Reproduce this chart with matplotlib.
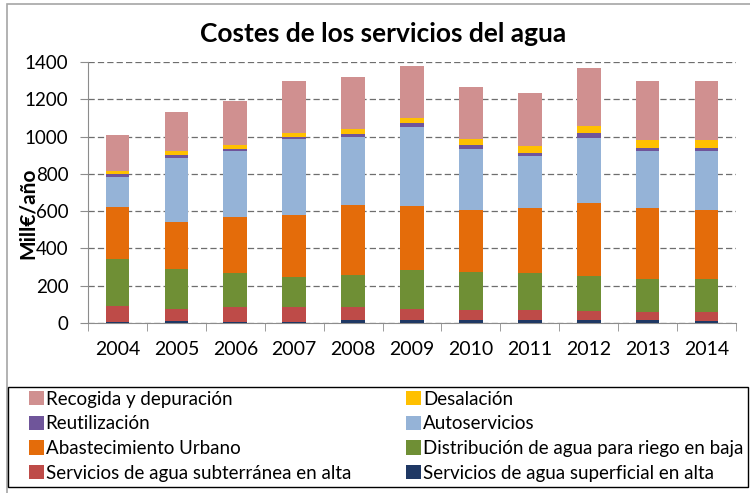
import matplotlib
matplotlib.use("Agg")
import matplotlib.pyplot as plt
from matplotlib.patches import Rectangle
import numpy as np

years = ["2004", "2005", "2006", "2007", "2008", "2009", "2010", "2011", "2012", "2013", "2014"]

# stacked series (bottom to top), Mill€/año
superficial = [5, 9, 8, 8, 18, 18, 16, 16, 16, 14, 9]
subterranea = [84, 66, 76, 76, 66, 57, 52, 52, 50, 47, 52]
distribucion = [256, 213, 186, 163, 175, 211, 206, 200, 184, 173, 173]
abastecimiento = [275, 254, 297, 334, 376, 343, 332, 347, 392, 381, 372]
autoservicios = [165, 343, 356, 406, 365, 424, 327, 279, 350, 308, 317]
reutilizacion = [14, 14, 12, 11, 12, 20, 20, 20, 27, 18, 18]
desalacion = [14, 22, 18, 23, 29, 27, 34, 37, 36, 39, 39]
recogida = [197, 211, 240, 275, 277, 280, 279, 283, 311, 318, 318]

series_names = [
    "Servicios de agua superficial en alta",
    "Servicios de agua subterránea en alta",
    "Distribución de agua para riego en baja",
    "Abastecimiento Urbano",
    "Autoservicios",
    "Reutilización",
    "Desalación",
    "Recogida y depuración",
]
series_values = [superficial, subterranea, distribucion, abastecimiento,
                 autoservicios, reutilizacion, desalacion, recogida]
colors = ["#1F3864", "#BE4B48", "#6F8F35", "#E46C0A",
          "#95B3D7", "#6F559A", "#FFC000", "#D09090"]

yticks = [0, 200, 400, 600, 800, 1000, 1200, 1400]

W, H = 750, 493
fig = plt.figure(figsize=(W / 100, H / 100), dpi=100)
fig.patch.set_facecolor("white")

# outer frame
fig.add_artist(Rectangle((7 / W, -0.1), 1.2, (H - 4) / H + 0.1, transform=fig.transFigure,
                         fill=False, edgecolor="#A6A6A6", linewidth=1.2))
# legend frame
fig.add_artist(Rectangle((8 / W, (H - 487) / H), 740 / W, 100 / H, transform=fig.transFigure,
                         fill=False, edgecolor="black", linewidth=1.0, zorder=5))

ax = fig.add_axes([88 / W, (H - 323) / H, 648 / W, 261 / H])
x = np.arange(len(years))
bottom = np.zeros(len(years))
handles = {}
for name, vals, c in zip(series_names, series_values, colors):
    b = ax.bar(x, vals, width=0.4, bottom=bottom, color=c, zorder=3, label=name)
    handles[name] = b
    bottom += np.array(vals)

ax.set_xlim(-0.5, len(years) - 0.5)
ax.set_ylim(0, 1400)
ax.set_yticks(yticks)
ax.set_yticklabels([str(v) for v in yticks], fontsize=13.5, family=["Lato", "DejaVu Sans"])
ax.yaxis.grid(True, linestyle=(0, (5, 2.5)), color="#6E6E6E", linewidth=0.9, zorder=0)
ax.set_axisbelow(True)

ax.set_xticks(x)
ax.set_xticklabels(years, fontsize=14, family=["Lato", "DejaVu Sans"])
ax.set_xticks(np.arange(-0.5, len(years), 1.0), minor=True)
ax.tick_params(axis="x", which="major", length=0, pad=13)
ax.tick_params(axis="x", which="minor", length=6, color="#8C8C8C", direction="out")
ax.tick_params(axis="y", length=6, color="#8C8C8C", direction="out", pad=8)

for s in ["top", "right"]:
    ax.spines[s].set_visible(False)
for s in ["left", "bottom"]:
    ax.spines[s].set_color("#8C8C8C")

ax.set_ylabel("Mill€/año", fontsize=15, fontweight="bold", family=["Lato", "DejaVu Sans"])
ax.yaxis.set_label_coords((38 - 88) / 648, (323 - 213) / 261)

fig.text(383 / W, 1 - 42 / H, "Costes de los servicios del agua", ha="center", va="baseline",
         fontsize=19, fontweight="bold", family=["Lato", "DejaVu Sans"])

order = ["Recogida y depuración", "Reutilización", "Abastecimiento Urbano",
         "Servicios de agua subterránea en alta",
         "Desalación", "Autoservicios", "Distribución de agua para riego en baja",
         "Servicios de agua superficial en alta"]
leg = fig.legend([handles[n] for n in order], order, ncol=2, mode="expand",
                 loc="upper left",
                 bbox_to_anchor=(25 / W, (H - 387) / H, 722 / W, 0),
                 frameon=False,
                 prop={"family": ["Liberation Sans Narrow", "Lato", "DejaVu Sans"], "size": 13.5},
                 handlelength=0.8, handleheight=0.8, handletextpad=0.1,
                 labelspacing=0.41, borderpad=0.2, borderaxespad=0)

fig.savefig("out.png", dpi=100)
